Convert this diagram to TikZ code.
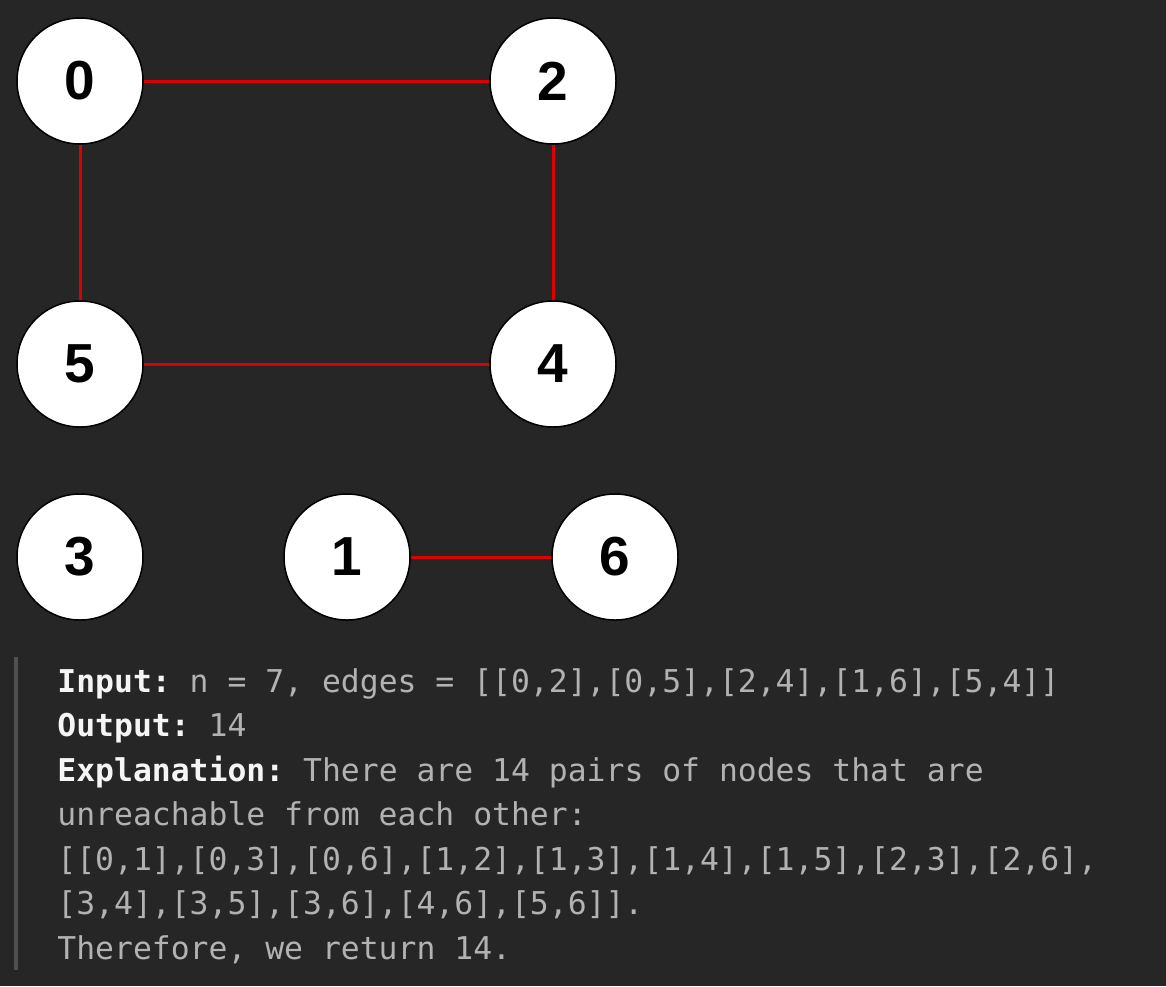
\documentclass[tikz,border=0pt]{standalone}
\usepackage{fontspec}
\newfontfamily\vertexfont{Liberation Sans}
\newfontfamily\codefont{DejaVu Sans Mono}
\definecolor{bg}{RGB}{38,38,38}
\definecolor{edgered}{RGB}{220,0,0}
\definecolor{codegrey}{RGB}{178,178,178}
\definecolor{labelwhite}{RGB}{245,245,245}
\definecolor{barcol}{RGB}{80,80,80}
\begin{document}
\begin{tikzpicture}[x=0.5pt,y=-0.5pt,
  vertex/.style={circle,draw=black,fill=white,line width=0.75pt,minimum size=63pt,inner sep=0pt,
    font=\vertexfont\bfseries\fontsize{27.5}{30}\selectfont},
  edge/.style={draw=edgered,line width=1.5pt},
  codeline/.style={anchor=base west,inner sep=0pt,text=codegrey,
    font=\codefont\fontsize{15.7}{22}\selectfont\frenchspacing}]
  \fill[bg] (0,0) rectangle (1166,986);
  \node[vertex] (v0) at (80,81) {0};
  \node[vertex] (v2) at (553,81) {2};
  \node[vertex] (v5) at (80,364) {5};
  \node[vertex] (v4) at (553,364) {4};
  \node[vertex] (v3) at (80,557) {3};
  \node[vertex] (v1) at (347,557) {1};
  \node[vertex] (v6) at (615,557) {6};
  \foreach \a/\b in {v0/v2,v0/v5,v2/v4,v5/v4,v1/v6}
    \draw[edge] (\a) -- (\b);

  \fill[barcol] (14,657) rectangle (18,970);
  \node[codeline] (l1) at (57,692) {\textcolor{labelwhite}{\bfseries Input:} n = 7, edges = [[0,2],[0,5],[2,4],[1,6],[5,4]]};
  \node[codeline] (l2) at (57,736.5) {\textcolor{labelwhite}{\bfseries Output:} 14};
  \node[codeline] (l3) at (57,781) {\textcolor{labelwhite}{\bfseries Explanation:} There are 14 pairs of nodes that are};
  \node[codeline] (l4) at (57,825.5) {unreachable from each other:};
  \node[codeline] (l5) at (57,870) {[[0,1],[0,3],[0,6],[1,2],[1,3],[1,4],[1,5],[2,3],[2,6],};
  \node[codeline] (l6) at (57,914.5) {[3,4],[3,5],[3,6],[4,6],[5,6]].};
  \node[codeline] (l7) at (57,959) {Therefore, we return 14.};
\end{tikzpicture}
\end{document}
